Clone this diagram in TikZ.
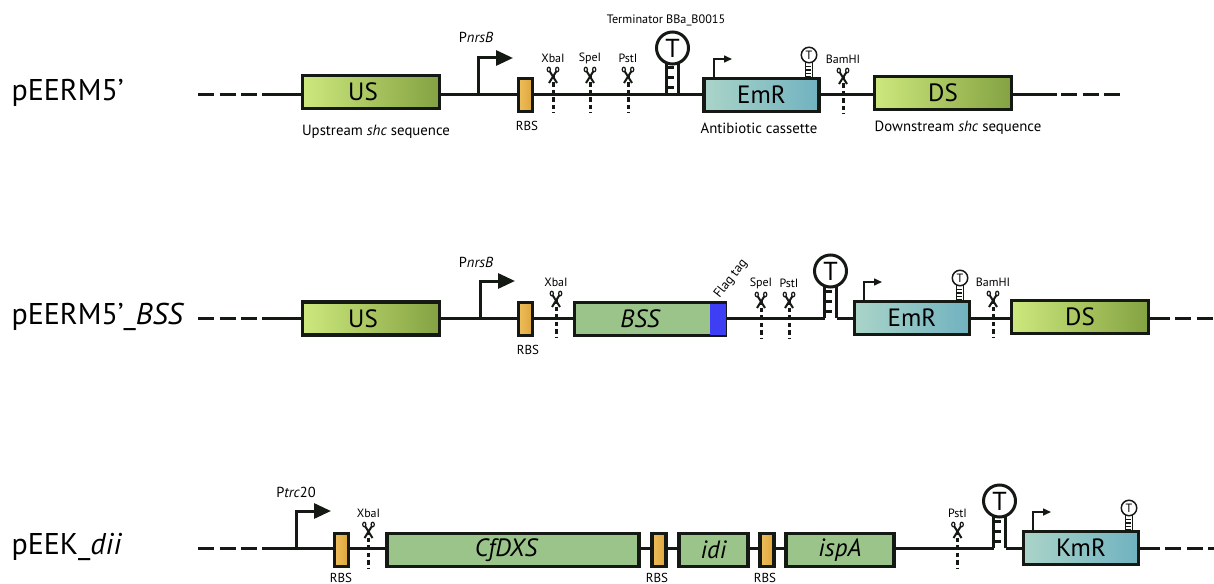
\documentclass[tikz,border=0pt]{standalone}
\usepackage{fontspec}
\setmainfont{PT Sans}
\usetikzlibrary{arrows.meta}
\definecolor{armleft}{RGB}{205,232,125}
\definecolor{armright}{RGB}{132,162,66}
\definecolor{cassleft}{RGB}{170,212,200}
\definecolor{cassright}{RGB}{112,178,192}
\definecolor{rbsleft}{RGB}{238,190,90}
\definecolor{rbsright}{RGB}{222,165,60}
\definecolor{genefill}{RGB}{155,196,138}
\definecolor{flagfill}{RGB}{62,62,245}
\definecolor{inkdark}{RGB}{20,25,20}
\begin{document}
\begin{tikzpicture}[x=1pt, y=-1pt,
    backbone/.style={line width=3pt, inkdark},
    backbone end/.style={line width=3pt, inkdark, dash pattern=on 16pt off 5.5pt},
    part/.style={draw=inkdark, line width=3.2pt, inner sep=0pt, minimum height=33pt, font=\fontsize{25}{25}\selectfont},
    arm/.style={part, left color=armleft, right color=armright, minimum width=137pt},
    cassette/.style={part, left color=cassleft, right color=cassright, minimum width=115pt},
    gene/.style={part, fill=genefill, font=\fontsize{25}{25}\selectfont\itshape},
    rbs/.style={part, left color=rbsleft, right color=rbsright, minimum width=14pt},
    plasmid/.style={anchor=west, font=\fontsize{30}{30}\selectfont},
    promoter label/.style={font=\fontsize{14.5}{15}\selectfont},
    caption label/.style={font=\fontsize{14.8}{15}\selectfont},
    small label/.style={font=\fontsize{13}{14}\selectfont},
    site label/.style={font=\fontsize{12}{12}\selectfont},
    site/.pic={
      \draw[line width=3pt, inkdark, dash pattern=on 4.5pt off 3pt] (0,0) -- (0,38);
      \draw[line width=2pt, inkdark] (-3.5,-4) -- (4,8) (3.5,-4) -- (-4,8);
      \draw[line width=1.2pt, inkdark] (-4.2,-5.5) ellipse (1.6 and 2.3) (4.2,-5.5) ellipse (1.6 and 2.3);
    },
    big promoter/.pic={
      \draw[line width=3pt, inkdark, -{Triangle[length=17pt,width=15pt]}] (0,0) |- (35,-37);
    },
    small promoter/.pic={
      \draw[line width=1.5pt, inkdark, -{Triangle[length=8pt,width=7pt]}] (0,0) |- (18,-18);
    },
    big terminator/.pic={
      \draw[line width=3pt, inkdark] (-6,0) -- (-6,-34) (6,0) -- (6,-34);
      \foreach \yrung in {-7,-17,-27} {
        \draw[line width=3pt, inkdark] (-6,\yrung) -- (1,\yrung);
      }
      \node[draw=inkdark, fill=white, circle, line width=3pt, minimum size=32pt, inner sep=0pt, font=\fontsize{26}{26}\selectfont] (-head) at (0,-47) {T};
    },
    small terminator/.pic={
      \draw[line width=1.2pt, inkdark] (-3.5,1) -- (-3.5,-15) (3.5,1) -- (3.5,-15);
      \foreach \yrung in {0,-3.5,-7,-10.5} {
        \draw[line width=1.2pt, inkdark] (-3.5,\yrung) -- (1.5,\yrung);
      }
      \node[draw=inkdark, fill=white, circle, line width=1.5pt, minimum size=15.5pt, inner sep=0pt, font=\fontsize{12}{12}\selectfont] (-head) at (0,-22) {T};
    }]

  \useasboundingbox (0,0) rectangle (1214,583);

  % === Row 1: pEERM5' ===
  \node[plasmid] (nameA) at (8,93) {pEERM5’};
  \coordinate (lineA) at (262,95);

  \node[arm] (usA) at (371,92) {US\hspace*{16pt}};
  \node[rbs] (rbsA) at (525.5,95) {};
  \coordinate (stemAl) at (666.5,95);
  \coordinate (stemAr) at (678.5,95);
  \node[cassette] (emrA) at (761.5,95) {EmR};
  \node[arm] (dsA) at (943,93) {DS};

  \draw[backbone end] (198,95) -- (lineA);
  \draw[backbone] (lineA) -- (usA.west |- lineA);
  \draw[backbone] (usA.east |- lineA) -- (rbsA.west);
  \draw[backbone] (rbsA.east) -- (stemAl) -- (stemAr) -- (emrA.west);
  \draw[backbone] (emrA.east) -- (dsA.west |- lineA);
  \draw[backbone] (dsA.east |- lineA) -- (1057,95);
  \draw[backbone end] (1061,95) -- (1121,95);

  \pic at (478,95) {big promoter};
  \pic at (672.5,95) {big terminator};
  \pic at (714,77) {small promoter};
  \pic at (809,77) {small terminator};

  % === Row 2: pEERM5'_BSS ===
  \node[plasmid] (nameB) at (8,317) {pEERM5’\_\textit{BSS}};
  \coordinate (lineB) at (262,318);

  \node[arm] (usB) at (371,318.5) {US\hspace*{16pt}};
  \node[rbs] (rbsB) at (525.5,319) {};
  \node[gene, minimum width=151.5pt] (bssB) at (650,319) {BSS\hspace*{20pt}};
  \node[fill=flagfill, inner sep=0pt, minimum width=16pt, minimum height=31pt] (flagB) at (717.5,319) {};
  \coordinate (stemBl) at (824.5,318);
  \coordinate (stemBr) at (836.5,318);
  \node[cassette] (emrB) at (912,318) {EmR};
  \node[arm] (dsB) at (1080,317) {DS};

  \draw[backbone end] (198,318) -- (lineB);
  \draw[backbone] (lineB) -- (usB.west |- lineB);
  \draw[backbone] (usB.east |- lineB) -- (rbsB.west |- lineB);
  \draw[backbone] (rbsB.east |- lineB) -- (bssB.west |- lineB);
  \draw[backbone] (bssB.east |- lineB) -- (stemBl);
  \draw[backbone] (stemBr) -- (emrB.west);
  \draw[backbone] (emrB.east) -- (dsB.west |- lineB);
  \draw[backbone] (dsB.east |- lineB) -- (1170,318);
  \draw[backbone end] (1175,318) -- (1214,318);

  \pic at (480,318) {big promoter};
  \pic at (830.5,318) {big terminator};
  \pic at (864,300) {small promoter};
  \pic at (960,300) {small terminator};

  % === Row 3: pEEK_dii ===
  \node[plasmid] (nameC) at (8,547) {pEEK\_\textit{dii}};
  \coordinate (lineC) at (262,548);

  \node[rbs] (rbsC) at (341.5,550) {};
  \node[gene, minimum width=252pt] (cfdxsC) at (513,550) {CfDXS\hspace*{14pt}};
  \node[rbs] (rbsD) at (659,550) {};
  \node[gene, minimum width=69pt] (idiC) at (713.5,550) {idi};
  \node[rbs] (rbsE) at (767,550) {};
  \node[gene, minimum width=108pt] (ispaC) at (840,550) {ispA};
  \coordinate (stemCl) at (993.5,548);
  \coordinate (stemCr) at (1005.5,548);
  \node[cassette] (kmrC) at (1081,548) {KmR};

  \draw[backbone end] (198,548) -- (lineC);
  \draw[backbone] (lineC) -- (rbsC.west |- lineC);
  \foreach \from/\to in {rbsC/cfdxsC, cfdxsC/rbsD, rbsD/idiC, idiC/rbsE, rbsE/ispaC} {
    \draw[backbone] (\from.east |- lineC) -- (\to.west |- lineC);
  }
  \draw[backbone] (ispaC.east |- lineC) -- (stemCl);
  \draw[backbone] (stemCr) -- (kmrC.west);
  \draw[backbone] (kmrC.east) -- (1160,548);
  \draw[backbone end] (1165,548) -- (1214,548);

  \pic at (296,548) {big promoter};
  \pic at (999.5,548) {big terminator};
  \pic at (1033,530) {small promoter};
  \pic at (1129,530) {small terminator};

  % === Restriction sites ===
  \foreach \sname/\xpos/\ypos/\lab in {xbaA/553/75/XbaI, speA/590/75/SpeI, pstA/628/75/PstI,
      bamA/843/76/BamHI, xbaB/556/299/XbaI, speB/761/300/SpeI, pstB/789/300/PstI,
      bamB/993/299/BamHI, xbaC/368.5/530/XbaI, pstC/957.5/530/PstI} {
    \pic at (\xpos,\ypos) {site};
    \node[site label] (\sname) at (\xpos,\ypos-17) {\lab};
  }

  % === Labels ===
  \node[promoter label] (pnrsA) at (476,37) {P\textit{nrsB}};
  \node[promoter label] (pnrsB) at (476,262) {P\textit{nrsB}};
  \node[promoter label] (ptrcC) at (296,492) {P\textit{trc}20};
  \node[font=\fontsize{12.2}{13}\selectfont] (termA) at (666,20) {Terminator BBa\_B0015};
  \node[caption label] (upA) at (376,132) {Upstream \textit{shc} sequence};
  \node[caption label] (antiA) at (759,128) {Antibiotic cassette};
  \node[caption label] (downA) at (958,128) {Downstream \textit{shc} sequence};
  \foreach \rname/\xpos/\ypos in {rbslabA/527/126, rbslabB/528/350, rbslabC/341/578, rbslabD/657/578, rbslabE/765/578} {
    \node[small label] (\rname) at (\xpos,\ypos) {RBS};
  }
  \node[font=\fontsize{13}{14}\selectfont, rotate=52] (flagtagB) at (731,279) {Flag tag};

\end{tikzpicture}
\end{document}
